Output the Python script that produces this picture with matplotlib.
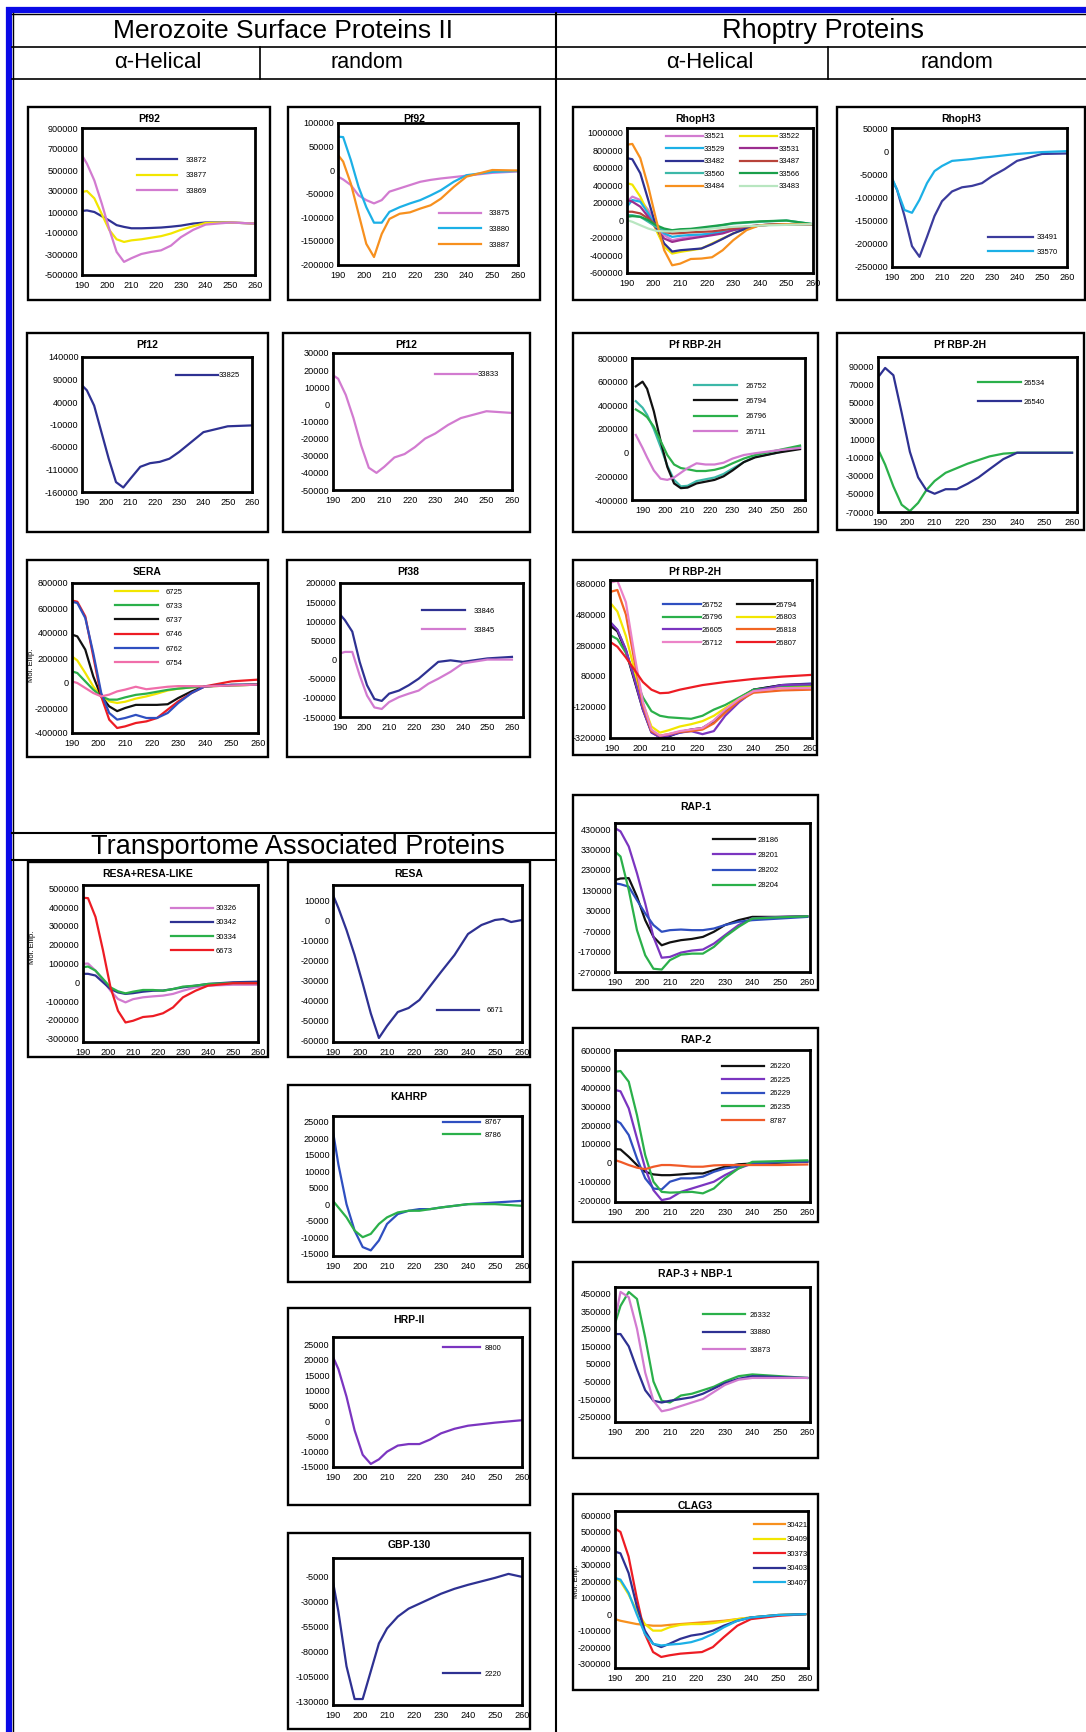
import matplotlib
matplotlib.use("Agg")
import matplotlib.pyplot as plt
from matplotlib.patches import Rectangle

plt.rcParams['font.family'] = ['Liberation Sans', 'DejaVu Sans']

W, H = 1086, 1732

# wavelengths (nm) used for the CD spectra
wl = [190, 192, 195, 198, 201, 204, 207, 210, 214, 218, 222, 226, 230, 235, 240, 250, 260]
wl_rbp = [187] + wl
wl_resa = [190, 192, 195, 198, 201, 204, 207, 210, 214, 218, 222, 226, 230, 235, 240, 245, 250, 253, 256, 260]
wl_gbp = [190, 192, 195, 198, 201, 204, 207, 210, 214, 218, 222, 226, 230, 235, 240, 250, 255, 260]
x_ticks = [190, 200, 210, 220, 230, 240, 250, 260]

# ---- Merozoite Surface Proteins II, alpha-helical ----
pf92a_ids = ["33872", "33877", "33869"]
pf92a_vals = [
    [110000, 115000, 100000, 60000, 20000, -25000, -42000, -55000, -55000, -52000, -48000, -40000, -30000, -10000, 0, 0, -10000],
    [290000, 300000, 230000, 80000, -70000, -160000, -185000, -170000, -160000, -145000, -130000, -105000, -70000, -35000, -5000, 0, -10000],
    [640000, 560000, 400000, 180000, -60000, -280000, -375000, -340000, -300000, -280000, -265000, -220000, -140000, -70000, -20000, 0, -10000],
]
pf92a_yticks = [900000, 700000, 500000, 300000, 100000, -100000, -300000, -500000]

pf12a_ids = ["33825"]
pf12a_vals = [
    [77000, 66000, 32000, -27000, -86000, -138000, -150000, -130000, -104000, -96000, -93000, -86000, -71000, -49000, -27000, -14000, -12000],
]
pf12a_yticks = [140000, 90000, 40000, -10000, -60000, -110000, -160000]

sera_ids = ["6725", "6733", "6737", "6746", "6762", "6754"]
sera_vals = [
    [213000, 180000, 80000, -27000, -107000, -147000, -160000, -150000, -125000, -107000, -85000, -60000, -45000, -35000, -27000, -20000, -13000],
    [93000, 80000, 13000, -53000, -107000, -133000, -133000, -115000, -95000, -85000, -70000, -55000, -45000, -35000, -27000, -20000, -13000],
    [387000, 373000, 267000, 53000, -107000, -187000, -225000, -200000, -175000, -175000, -175000, -170000, -120000, -67000, -27000, -15000, -13000],
    [660000, 650000, 533000, 213000, -107000, -293000, -360000, -347000, -320000, -307000, -280000, -213000, -147000, -80000, -27000, 13000, 27000],
    [650000, 640000, 520000, 240000, -80000, -240000, -293000, -280000, -255000, -280000, -280000, -240000, -160000, -80000, -27000, -15000, -13000],
    [13000, 0, -40000, -80000, -107000, -93000, -67000, -53000, -30000, -50000, -40000, -30000, -25000, -25000, -27000, -20000, -13000],
]
sera_yticks = [800000, 600000, 400000, 200000, 0, -200000, -400000]

# ---- Merozoite Surface Proteins II, random ----
pf92r_ids = ["33875", "33880", "33887"]
pf92r_vals = [
    [-14000, -20000, -32000, -54000, -64000, -71000, -64000, -46000, -39000, -32000, -25000, -21000, -18000, -15000, -12000, -6000, -3000],
    [71000, 70000, 21000, -36000, -79000, -112000, -112000, -89000, -79000, -71000, -64000, -54000, -43000, -25000, -11000, -4000, -2000],
    [32000, 18000, -29000, -93000, -157000, -185000, -136000, -104000, -93000, -90000, -82000, -75000, -61000, -36000, -14000, 0, -1000],
]
pf92r_yticks = [100000, 50000, 0, -50000, -100000, -150000, -200000]

pf12r_ids = ["33833"]
pf12r_vals = [
    [17000, 15000, 5500, -8000, -24000, -37000, -40000, -36500, -31000, -29000, -25000, -20000, -17000, -12000, -8000, -4000, -5000],
]
pf12r_yticks = [30000, 20000, 10000, 0, -10000, -20000, -30000, -40000, -50000]

pf38_ids = ["33846", "33845"]
pf38_vals = [
    [118000, 103000, 73000, -6000, -67000, -103000, -108000, -89000, -81000, -67000, -50000, -28000, -6000, -2000, -6000, 3000, 7000],
    [16000, 20000, 20000, -41000, -94000, -125000, -129000, -111000, -98000, -89000, -81000, -63000, -50000, -32000, -10000, 0, 0],
]
pf38_yticks = [200000, 150000, 100000, 50000, 0, -50000, -100000, -150000]

# ---- Transportome Associated Proteins ----
resal_ids = ["30326", "30342", "30334", "6673"]
resal_vals = [
    [98000, 100000, 62000, 9000, -45000, -89000, -107000, -90000, -80000, -75000, -71000, -62000, -45000, -27000, -18000, -13000, -13000],
    [45000, 45000, 36000, 0, -36000, -54000, -62000, -58000, -50000, -45000, -44000, -36000, -27000, -18000, -9000, 0, 3000],
    [80000, 84000, 62000, 18000, -27000, -48000, -59000, -50000, -41000, -41000, -45000, -36000, -23000, -18000, -9000, -4000, -4000],
    [450000, 448000, 348000, 170000, -27000, -152000, -214000, -205000, -185000, -180000, -165000, -134000, -80000, -45000, -18000, -5000, -5000],
]
resal_yticks = [500000, 400000, 300000, 200000, 100000, 0, -100000, -200000, -300000]

resa_ids = ["6671"]
resa_vals = [
    [12500, 6000, -5000, -17500, -31700, -46700, -59000, -53000, -46000, -44000, -40000, -33000, -26000, -17500, -7000, -2500, 0, 500, -1000, 0],
]
resa_yticks = [10000, 0, -10000, -20000, -30000, -40000, -50000, -60000]

kahrp_ids = ["8767", "8786"]
kahrp_vals = [
    [22000, 12000, 0, -8000, -13000, -14000, -11000, -6000, -3000, -2000, -1500, -1500, -1000, -500, 0, 500, 1000],
    [1000, -1000, -4000, -8000, -10000, -9000, -6000, -4000, -2500, -2000, -2000, -1500, -1000, -500, 0, 0, -500],
]
kahrp_yticks = [25000, 20000, 15000, 10000, 5000, 0, -5000, -10000, -15000]

hrp_ids = ["8800"]
hrp_vals = [
    [21000, 17000, 8000, -3000, -11000, -14000, -12500, -10000, -8000, -7500, -7500, -6000, -4000, -2500, -1500, -500, 300],
]
hrp_yticks = [25000, 20000, 15000, 10000, 5000, 0, -5000, -10000, -15000]

gbp_ids = ["2220"]
gbp_vals = [
    [-10000, -40000, -95000, -128000, -128000, -100000, -72000, -57000, -45000, -37000, -32000, -27000, -22000, -17000, -13000, -6000, -2000, -5000],
]
gbp_yticks = [-5000, -30000, -55000, -80000, -105000, -130000]

# ---- Rhoptry Proteins, alpha-helical ----
rhoph3a_ids = ["33521", "33522", "33529", "33531", "33482", "33487", "33560", "33566", "33484", "33483"]
rhoph3a_vals = [
    [215000, 273000, 234000, 120000, -34000, -168000, -225000, -206000, -187000, -168000, -148000, -130000, -90000, -70000, -54000, -42000, -42000],
    [426000, 410000, 273000, 81000, -111000, -301000, -378000, -359000, -340000, -321000, -263000, -206000, -148000, -90000, -54000, -42000, -42000],
    [158000, 234000, 215000, 81000, -73000, -148000, -187000, -175000, -165000, -160000, -150000, -130000, -110000, -80000, -54000, -42000, -42000],
    [234000, 215000, 158000, 42000, -90000, -206000, -245000, -225000, -206000, -187000, -168000, -148000, -110000, -80000, -54000, -42000, -42000],
    [713000, 700000, 540000, 234000, -73000, -263000, -355000, -340000, -330000, -320000, -270000, -210000, -148000, -90000, -54000, -42000, -42000],
    [100000, 100000, 81000, 23000, -54000, -130000, -148000, -145000, -135000, -130000, -125000, -110000, -90000, -70000, -54000, -42000, -42000],
    [61000, 60000, 42000, -15000, -73000, -111000, -120000, -111000, -105000, -90000, -73000, -54000, -35000, -25000, -15000, 0, -42000],
    [42000, 50000, 42000, 4000, -54000, -92000, -111000, -100000, -95000, -80000, -65000, -50000, -30000, -20000, -10000, 0, -42000],
    [866000, 875000, 713000, 388000, 5000, -340000, -512000, -493000, -440000, -435000, -420000, -340000, -225000, -110000, -54000, -42000, -42000],
    [4000, -15000, -54000, -92000, -118000, -125000, -125000, -118000, -111000, -104000, -92000, -81000, -73000, -65000, -58000, -50000, -42000],
]
rhoph3a_yticks = [1000000, 800000, 600000, 400000, 200000, 0, -200000, -400000, -600000]

rbpa_ids = ["26752", "26794", "26796", "26711"]
rbpa_vals = [
    [435000, 380000, 320000, 200000, 50000, -110000, -230000, -285000, -280000, -240000, -225000, -210000, -180000, -135000, -80000, -35000, 0, 50000],
    [560000, 600000, 540000, 350000, 100000, -120000, -260000, -300000, -295000, -260000, -245000, -230000, -200000, -150000, -80000, -40000, 0, 30000],
    [365000, 330000, 300000, 220000, 100000, -20000, -100000, -130000, -140000, -155000, -155000, -145000, -125000, -90000, -50000, -20000, 20000, 60000],
    [150000, 40000, -40000, -150000, -220000, -230000, -210000, -170000, -130000, -90000, -100000, -100000, -85000, -50000, -20000, -5000, 20000, 40000],
]
rbpa_yticks = [800000, 600000, 400000, 200000, 0, -200000, -400000]

rbp12_ids = ["26752", "26794", "26796", "26803", "26605", "26818", "26712", "26807"]
rbp12_vals = [
    [420000, 380000, 250000, 60000, -130000, -280000, -320000, -315000, -290000, -275000, -265000, -220000, -150000, -70000, -10000, 20000, 30000],
    [400000, 370000, 240000, 50000, -140000, -285000, -320000, -315000, -285000, -270000, -260000, -215000, -145000, -65000, -10000, 20000, 25000],
    [340000, 320000, 230000, 80000, -60000, -150000, -180000, -190000, -195000, -200000, -180000, -140000, -110000, -60000, -10000, 10000, 15000],
    [545000, 500000, 340000, 120000, -100000, -250000, -290000, -275000, -250000, -235000, -215000, -180000, -130000, -70000, -20000, 0, 5000],
    [420000, 380000, 250000, 60000, -140000, -290000, -320000, -310000, -290000, -280000, -300000, -280000, -180000, -90000, -20000, 20000, 25000],
    [630000, 640000, 480000, 180000, -110000, -280000, -310000, -300000, -285000, -280000, -270000, -230000, -160000, -80000, -30000, -15000, -10000],
    [690000, 700000, 560000, 220000, -90000, -270000, -310000, -300000, -280000, -270000, -260000, -210000, -140000, -70000, -20000, 0, 0],
    [295000, 270000, 200000, 120000, 40000, -10000, -33000, -30000, -10000, 5000, 20000, 30000, 40000, 50000, 60000, 75000, 86000],
]
rbp12_yticks = [680000, 480000, 280000, 80000, -120000, -320000]

rap1_ids = ["28186", "28201", "28202", "28204"]
rap1_vals = [
    [181000, 188000, 190000, 99000, -16000, -98000, -139000, -125000, -114000, -108000, -98000, -73000, -40000, -16000, 0, 0, 3000],
    [435000, 419000, 345000, 214000, 66000, -98000, -200000, -196000, -175000, -165000, -160000, -131000, -90000, -40000, -7000, 0, 3000],
    [164000, 160000, 148000, 82000, 17000, -40000, -73000, -65000, -62000, -65000, -65000, -57000, -40000, -24000, -16000, -8000, 0],
    [320000, 296000, 132000, -65000, -188000, -254000, -258000, -212000, -185000, -180000, -180000, -147000, -98000, -49000, -8000, -2000, 3000],
]
rap1_yticks = [430000, 330000, 230000, 130000, 30000, -70000, -170000, -270000]

rap2_ids = ["26220", "26225", "26229", "26235", "8787"]
rap2_vals = [
    [72000, 70000, 31000, -13000, -49000, -63000, -67000, -67000, -63000, -58000, -58000, -40000, -22000, -9000, -5000, 0, 4000],
    [387000, 380000, 289000, 129000, -31000, -147000, -200000, -191000, -156000, -138000, -120000, -102000, -67000, -31000, -5000, 4000, 5000],
    [227000, 210000, 147000, 22000, -84000, -138000, -143000, -102000, -84000, -84000, -75000, -49000, -31000, -22000, -5000, 4000, 7000],
    [484000, 488000, 431000, 253000, 40000, -102000, -156000, -160000, -158000, -156000, -164000, -138000, -84000, -31000, 4000, 8000, 12000],
    [13000, 4000, -13000, -27000, -35000, -22000, -13000, -13000, -17000, -22000, -22000, -15000, -13000, -13000, -13000, -13000, -10000],
]
rap2_yticks = [600000, 500000, 400000, 300000, 200000, 100000, 0, -100000, -200000]

rap3_ids = ["26332", "33880", "33873"]
rap3_vals = [
    [280000, 380000, 460000, 420000, 200000, -50000, -160000, -170000, -130000, -120000, -100000, -80000, -50000, -20000, -10000, -20000, -30000],
    [220000, 220000, 150000, 20000, -100000, -160000, -170000, -160000, -150000, -140000, -120000, -90000, -60000, -35000, -20000, -25000, -30000],
    [300000, 460000, 430000, 250000, 0, -160000, -220000, -210000, -190000, -170000, -150000, -110000, -70000, -40000, -30000, -30000, -30000],
]
rap3_yticks = [450000, 350000, 250000, 150000, 50000, -50000, -150000, -250000]

clag3_ids = ["30421", "30409", "30373", "30403", "30407"]
clag3_vals = [
    [-30000, -40000, -50000, -60000, -65000, -70000, -70000, -65000, -60000, -55000, -50000, -45000, -40000, -30000, -20000, -5000, 0],
    [220000, 200000, 120000, 20000, -60000, -100000, -100000, -80000, -65000, -60000, -60000, -55000, -45000, -30000, -20000, -5000, 0],
    [520000, 500000, 350000, 100000, -120000, -230000, -260000, -250000, -240000, -235000, -230000, -200000, -140000, -70000, -30000, -10000, 0],
    [380000, 370000, 250000, 50000, -100000, -180000, -200000, -180000, -150000, -130000, -120000, -100000, -70000, -40000, -20000, -5000, 0],
    [220000, 210000, 130000, 0, -120000, -180000, -190000, -185000, -180000, -170000, -150000, -120000, -80000, -40000, -20000, -5000, 0],
]
clag3_yticks = [600000, 500000, 400000, 300000, 200000, 100000, 0, -100000, -200000, -300000]

# ---- Rhoptry Proteins, random ----
rhoph3r_ids = ["33491", "33570"]
rhoph3r_vals = [
    [-61000, -83000, -140000, -205000, -228000, -185000, -140000, -108000, -87000, -78000, -75000, -69000, -54000, -39000, -21000, -6000, -5000],
    [-58000, -83000, -127000, -133000, -105000, -69000, -43000, -32000, -21000, -19000, -17000, -14000, -12000, -9000, -6000, -2000, 0],
]
rhoph3r_yticks = [50000, 0, -50000, -100000, -150000, -200000, -250000]

rbpr_ids = ["26534", "26540"]
rbpr_vals = [
    [-5000, -18000, -42000, -62000, -69000, -60000, -46000, -36000, -27000, -22000, -17000, -13000, -9000, -6000, -5000, -5000, -5000],
    [80000, 88000, 80000, 39000, -4000, -32000, -46000, -50000, -45000, -45000, -39000, -32000, -23000, -12000, -5000, -5000, -5000],
]
rbpr_yticks = [90000, 70000, 50000, 30000, 10000, -10000, -30000, -50000, -70000]

# colours
NAVY = "#2e3192"
YEL = "#f2e600"
ORCH = "#d27bd0"
SKY = "#1cb0e6"
ORG = "#f7901e"
GRN = "#2bb04a"
BLK = "#111111"
RED = "#ed1c24"
BLUE = "#2f4fc0"
PINK = "#f06eaa"
PURP = "#7b35c0"
TEAL = "#3cb8a8"

# layout: box / axes in pixels (x0, y0, x1, y1); legend (x, y, row px, line px, pad px, ncol, colgap px)
panels = [
    dict(title="Pf92", box=(28, 107, 270, 300), ax=(82, 128, 255, 275), xlim=(190, 260), ylim=(-500000, 900000),
         ids=pf92a_ids, vals=pf92a_vals, yt=pf92a_yticks, colors=[NAVY, YEL, ORCH], leg=(0.32, 0.77, 17, 40, 8, 1, 0)),
    dict(title="Pf92", box=(288, 107, 540, 300), ax=(338, 123, 518, 265), xlim=(190, 260), ylim=(-202000, 100000),
         ids=pf92r_ids, vals=pf92r_vals, yt=pf92r_yticks, colors=[ORCH, SKY, ORG], leg=(0.56, 0.35, 17, 42, 8, 1, 0)),
    dict(title="Pf12", box=(27, 333, 268, 532), ax=(82, 357, 252, 492), xlim=(190, 260), ylim=(-160000, 140000),
         ids=pf12a_ids, vals=pf12a_vals, yt=pf12a_yticks, colors=[NAVY], leg=(0.55, 0.85, 17, 42, 1, 1, 0)),
    dict(title="Pf12", box=(283, 333, 530, 532), ax=(333, 353, 512, 490), xlim=(190, 260), ylim=(-50000, 30000),
         ids=pf12r_ids, vals=pf12r_vals, yt=pf12r_yticks, colors=[ORCH], leg=(0.57, 0.83, 17, 42, 1, 1, 0)),
    dict(title="SERA", box=(27, 560, 268, 757), ax=(72, 583, 258, 733), xlim=(190, 260), ylim=(-400000, 800000),
         ids=sera_ids, vals=sera_vals, yt=sera_yticks, colors=[YEL, GRN, BLK, RED, BLUE, PINK],
         leg=(0.23, 0.93, 15.7, 43, 8, 1, 0), ylabel=(-0.2, 0.45)),
    dict(title="Pf38", box=(287, 560, 530, 757), ax=(340, 583, 523, 717), xlim=(190, 264.5), ylim=(-150000, 200000),
         ids=pf38_ids, vals=pf38_vals, yt=pf38_yticks, colors=[NAVY, ORCH], leg=(0.45, 0.78, 21, 43, 8, 1, 0)),
    dict(title="RESA+RESA-LIKE", box=(28, 862, 268, 1057), ax=(83, 885, 258, 1042), xlim=(190, 260), ylim=(-318000, 518000),
         ids=resal_ids, vals=resal_vals, yt=resal_yticks, colors=[ORCH, NAVY, GRN, RED],
         leg=(0.5, 0.84, 15.6, 42, 3, 1, 0), ylabel=(-0.27, 0.6)),
    dict(title="RESA", box=(288, 862, 530, 1057), ax=(333, 885, 522, 1042), xlim=(190, 260), ylim=(-61000, 17500),
         ids=resa_ids, vals=resa_vals, yt=resa_yticks, colors=[NAVY], leg=(0.55, 0.19, 17, 42, 8, 1, 0), x=wl_resa),
    dict(title="KAHRP", box=(288, 1085, 530, 1282), ax=(333, 1116, 522, 1256), xlim=(190, 260), ylim=(-15700, 26700),
         ids=kahrp_ids, vals=kahrp_vals, yt=kahrp_yticks, colors=[BLUE, GRN], leg=(0.58, 0.94, 14, 37, 5, 1, 0)),
    dict(title="HRP-II", box=(288, 1308, 530, 1505), ax=(333, 1337, 522, 1467), xlim=(190, 260), ylim=(-15000, 27500),
         ids=hrp_ids, vals=hrp_vals, yt=hrp_yticks, colors=[PURP], leg=(0.58, 0.9, 14, 37, 5, 1, 0)),
    dict(title="GBP-130", box=(288, 1533, 530, 1729), ax=(333, 1558, 522, 1705), xlim=(190, 260), ylim=(-134000, 14000),
         ids=gbp_ids, vals=gbp_vals, yt=gbp_yticks, colors=[NAVY], leg=(0.58, 0.2, 14, 37, 5, 1, 0), x=wl_gbp),
    dict(title="RhopH3", box=(573, 107, 817, 300), ax=(627, 128, 813, 273), xlim=(190, 260), ylim=(-600000, 1057000),
         ids=rhoph3a_ids, vals=rhoph3a_vals, yt=rhoph3a_yticks,
         colors=[ORCH, YEL, SKY, "#9b2d8f", NAVY, "#b8433a", TEAL, "#1a9f4a", ORG, "#b8e6c0"],
         leg=(0.21, 0.93, 14, 37, 1, 2, 15)),
    dict(title="Pf RBP-2H", box=(573, 333, 818, 532), ax=(632, 358, 805, 500), xlim=(185.3, 262.2), ylim=(-400000, 800000),
         ids=rbpa_ids, vals=rbpa_vals, yt=rbpa_yticks, colors=[TEAL, BLK, GRN, ORCH], leg=(0.36, 0.79, 16.7, 43, 8, 1, 0), x=wl_rbp),
    dict(title="Pf RBP-2H", box=(573, 560, 817, 755), ax=(610, 580, 812, 738), xlim=(189.4, 260.6), ylim=(-325000, 705000),
         ids=rbp12_ids, vals=rbp12_vals, yt=rbp12_yticks,
         colors=[BLUE, BLK, GRN, YEL, PURP, "#f26522", "#ec83c8", RED], leg=(0.26, 0.83, 14, 38, 1, 2, 14)),
    dict(title="RAP-1", box=(573, 795, 818, 990), ax=(615, 823, 810, 972), xlim=(190, 261), ylim=(-270000, 460000),
         ids=rap1_ids, vals=rap1_vals, yt=rap1_yticks, colors=[BLK, PURP, BLUE, GRN], leg=(0.5, 0.875, 16.7, 42, 3, 1, 0)),
    dict(title="RAP-2", box=(573, 1028, 818, 1222), ax=(615, 1050, 810, 1202), xlim=(190, 261), ylim=(-210000, 600000),
         ids=rap2_ids, vals=rap2_vals, yt=rap2_yticks, colors=[BLK, PURP, BLUE, GRN, "#f05a28"], leg=(0.55, 0.88, 15, 42, 5, 1, 0)),
    dict(title="RAP-3 + NBP-1", box=(573, 1262, 818, 1458), ax=(615, 1287, 810, 1422), xlim=(190, 261), ylim=(-281000, 488000),
         ids=rap3_ids, vals=rap3_vals, yt=rap3_yticks, colors=[GRN, NAVY, ORCH], leg=(0.45, 0.78, 19, 42, 5, 1, 0)),
    dict(title="CLAG3", box=(573, 1494, 818, 1690), ax=(615, 1511, 808, 1668), xlim=(190, 261), ylim=(-327000, 627000),
         ids=clag3_ids, vals=clag3_vals, yt=clag3_yticks, colors=[ORG, YEL, RED, NAVY, SKY],
         leg=(0.72, 0.9, 16, 31, 2, 1, 0), ylabel=(-0.18, 0.55)),
    dict(title="RhopH3", box=(837, 107, 1085, 300), ax=(892, 128, 1067, 267), xlim=(190, 260), ylim=(-250000, 50000),
         ids=rhoph3r_ids, vals=rhoph3r_vals, yt=rhoph3r_yticks, colors=["#3b3b9c", SKY], leg=(0.55, 0.2, 15.7, 45, 3, 1, 0)),
    dict(title="Pf RBP-2H", box=(837, 333, 1084, 530), ax=(878, 357, 1077, 512), xlim=(189.4, 261.8), ylim=(-70000, 100000),
         ids=rbpr_ids, vals=rbpr_vals, yt=rbpr_yticks, colors=[GRN, NAVY], leg=(0.5, 0.82, 20, 43, 3, 1, 0)),
]

FS = 6.6      # tick labels
LFS = 5.5     # legend labels
LFS_PX = LFS * 100 / 72

fig = plt.figure(figsize=(W / 100, H / 100), dpi=100)
bg = fig.add_axes([0, 0, 1, 1])
bg.set_xlim(0, W)
bg.set_ylim(H, 0)
bg.axis("off")

# outer frame and header grid
bg.plot([9, 9], [7, H], color="#0a0ae6", lw=4.5, solid_capstyle="butt")
bg.plot([6, W], [10, 10], color="#0a0ae6", lw=4.5, solid_capstyle="butt")
bg.plot([12.5, 12.5], [13, H], color="black", lw=1)
bg.plot([12, W], [13.5, 13.5], color="black", lw=1)
bg.plot([12, W], [47, 47], color="black", lw=1.2)
bg.plot([12, W], [78.5, 78.5], color="black", lw=1.2)
bg.plot([260, 260], [47, 78.5], color="black", lw=1.2)
bg.plot([828, 828], [47, 78.5], color="black", lw=1.2)
bg.plot([556, 556], [13, H], color="black", lw=1.5)
bg.plot([12, 556], [833, 833], color="black", lw=1.5)
bg.plot([12, 556], [860, 860], color="black", lw=1.5)

bg.text(283, 31, "Merozoite Surface Proteins II", ha="center", va="center", fontsize=19)
bg.text(823, 31, "Rhoptry Proteins", ha="center", va="center", fontsize=19.5)
bg.text(158, 63, "α-Helical", ha="center", va="center", fontsize=16)
bg.text(367, 63, "random", ha="center", va="center", fontsize=15.5)
bg.text(710, 63, "α-Helical", ha="center", va="center", fontsize=16)
bg.text(957, 63, "random", ha="center", va="center", fontsize=15.5)
bg.text(298, 847, "Transportome Associated Proteins", ha="center", va="center", fontsize=19.5)

for p in panels:
    bx0, by0, bx1, by1 = p["box"]
    frame = Rectangle((bx0, by0), bx1 - bx0, by1 - by0, fill=False, ec="black", lw=1.7)
    bg.add_patch(frame)
    bg.text((bx0 + bx1) / 2, by0 + 12, p["title"], ha="center", va="center", fontsize=7.5, fontweight="bold")

    ax0, ay0, ax1, ay1 = p["ax"]
    ax = fig.add_axes([ax0 / W, 1 - ay1 / H, (ax1 - ax0) / W, (ay1 - ay0) / H])
    x = p.get("x", wl)
    lines = []
    for lab, v, c in zip(p["ids"], p["vals"], p["colors"]):
        ln, = ax.plot(x, v, color=c, lw=1.6, label=lab)
        lines.append(ln)
    ax.set_xlim(*p["xlim"])
    ax.set_ylim(*p["ylim"])
    ax.set_xticks(x_ticks)
    ax.set_xticklabels([str(t) for t in x_ticks])
    ax.set_yticks(p["yt"])
    ax.set_yticklabels([str(t) for t in p["yt"]])
    ax.tick_params(length=0, labelsize=FS, pad=2.5)
    ax.tick_params(axis="x", pad=4)
    for s in ax.spines.values():
        s.set_linewidth(2)
    # labels that run past the panel frame are cut by it, as in the figure
    for t in ax.get_yticklabels():
        t.set_clip_path(frame)
    if "ylabel" in p:
        ax.set_ylabel("Mol. Ellip.", fontsize=5.5)
        ax.yaxis.set_label_coords(*p["ylabel"])

    lx, ly, row_px, hl_px, tp_px, ncol, cs_px = p["leg"]
    handles, labels = lines, list(p["ids"])
    if ncol == 2:
        handles = lines[0::2] + lines[1::2]
        labels = labels[0::2] + labels[1::2]
    h_px = ay1 - ay0
    ls = max(0.0, (row_px - 1.15 * LFS_PX) / LFS_PX)
    ytop = ly + 0.6 * LFS_PX * 1.15 / h_px
    ax.legend(handles, labels, loc="upper left", bbox_to_anchor=(lx, ytop), frameon=False,
              fontsize=LFS, handlelength=hl_px / LFS_PX, handletextpad=tp_px / LFS_PX,
              labelspacing=ls, borderaxespad=0, borderpad=0, ncol=ncol,
              columnspacing=cs_px / LFS_PX)

fig.savefig("out.png", dpi=100)
